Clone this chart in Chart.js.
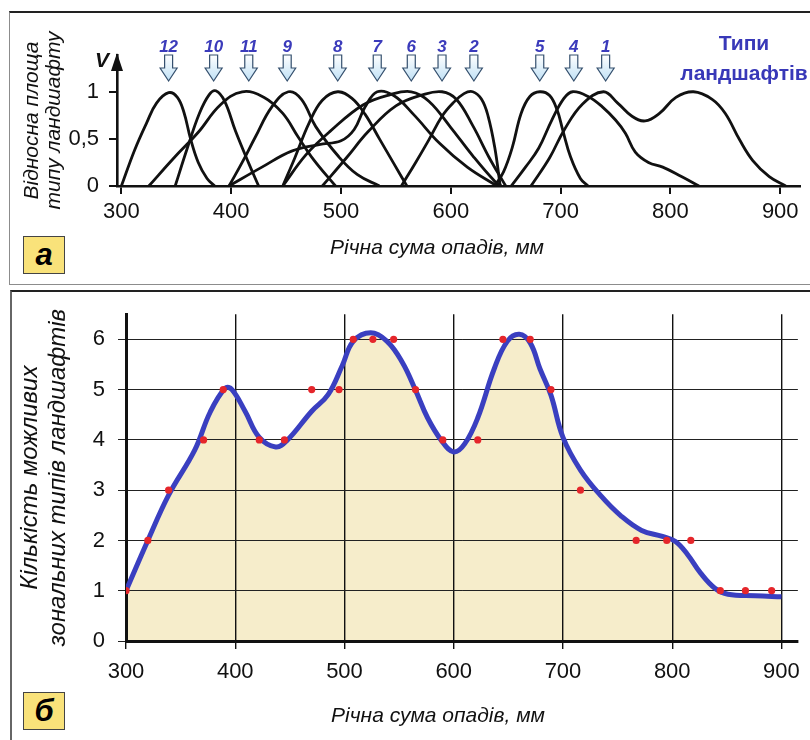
<!DOCTYPE html>
<html lang="uk">
<head>
<meta charset="utf-8">
<title>Типи ландшафтів і річна сума опадів</title>
<script src="https://cdn.jsdelivr.net/npm/chart.js@4.4.1/dist/chart.umd.min.js"></script>
<style>
  html, body { margin: 0; padding: 0; background: #fff; }
  #page { position: relative; width: 810px; height: 740px; overflow: hidden; font-family: 'Liberation Sans', Arial, sans-serif; }
  .panel { position: absolute; border: 1px solid #8c8c8c; border-top: 2px solid #222; }
  #panelA { left: 9px; top: 11px; width: 900px; height: 271px; }
  #panelB { left: 10px; top: 290px; width: 900px; height: 500px; border-left: 2px solid #666; }
  .tag { position: absolute; width: 40px; height: 36px; background: #f9e27a; border: 1px solid #444;
         font: italic bold 31px 'Liberation Sans', Arial, sans-serif; text-align: center; line-height: 35px; color: #000; }
  .xtitle { position: absolute; font: italic 21px 'Liberation Sans', Arial, sans-serif; color: #111;
            transform: translate(-50%, -50%); white-space: nowrap; }
  #typy { position: absolute; left: 669px; top: 28px; width: 150px; text-align: center; color: #3838b8;
          font: bold 21px 'Liberation Sans', Arial, sans-serif; line-height: 30px; }
  canvas { position: absolute; left: 0; }
</style>
</head>
<body>
<div id="page">
  <div class="panel" id="panelA"></div>
  <div class="panel" id="panelB"></div>
  <canvas id="chartA" width="810" height="286" style="top:0;width:810px;height:286px"></canvas>
  <canvas id="chartB" width="810" height="452" style="top:288px;width:810px;height:452px"></canvas>
  <div id="typy">Типи<br>ландшафтів</div>
  <div class="xtitle" style="left:437px;top:247px">Річна сума опадів, мм</div>
  <div class="xtitle" style="left:438px;top:715px">Річна сума опадів, мм</div>
  <div class="tag" style="left:23px;top:236px">а</div>
  <div class="tag" style="left:23px;top:692px">б</div>
</div>
<script>
const SHRYFT = "'Liberation Sans', Arial, sans-serif";

// === ПАНЕЛЬ А: відносна площа типів ландшафту ===
const tykyA = [300, 400, 500, 600, 700, 800, 900];
const tykyVA = [0, 0.5, 1];
const typyNomery = ['12', '10', '11', '9', '8', '7', '6', '3', '2', '5', '4', '1'];
const typyOptimum = [343, 384, 416, 451, 497, 533, 564, 592, 621, 681, 712, 741];

const k12 = [[300,0],[312,0.38],[323,0.67],[332,0.88],[343,0.99],[351,0.94],[357,0.78],[363,0.5],[370,0.25],[378,0.08],[385,0]];
const k10 = [[349,0],[360,0.4],[371,0.77],[380,0.97],[386,1.01],[394,0.9],[404,0.58],[416,0.24],[425,0]];
const k11 = [[325,0],[348,0.3],[370,0.57],[390,0.86],[410,1.0],[430,0.94],[447,0.77],[461,0.52],[475,0.28],[495,0]];
const k9 = [[398,0],[410,0.25],[422,0.52],[437,0.84],[452,1.0],[464,0.92],[477,0.63],[498,0.31],[515,0.12],[535,0]];
const k8 = [[447,0],[458,0.3],[471,0.67],[483,0.91],[497,1.0],[510,0.93],[522,0.76],[535,0.5],[548,0.24],[560,0]];
const k7 = [[398,0],[428,0.2],[455,0.37],[480,0.44],[500,0.48],[512,0.6],[522,0.84],[533,1.0],[548,0.96],[566,0.76],[590,0.45],[615,0.2],[642,0]];
const k6 = [[447,0],[468,0.33],[490,0.58],[520,0.86],[545,0.97],[564,1.0],[580,0.9],[600,0.62],[620,0.32],[640,0.05],[646,0]];
const k3 = [[483,0],[505,0.3],[525,0.58],[550,0.85],[575,0.97],[592,1.0],[605,0.92],[620,0.64],[635,0.3],[650,0]];
const k2 = [[555,0],[568,0.25],[580,0.49],[592,0.74],[602,0.88],[612,0.98],[620,1.0],[628,0.92],[634,0.74],[640,0.41],[645,0]];
const k5 = [[640,0],[648,0.15],[656,0.41],[664,0.77],[672,0.95],[681,1.0],[690,0.96],[697,0.8],[702,0.59],[709,0.31],[718,0.08],[725,0]];
const k4 = [[655,0],[668,0.2],[680,0.4],[692,0.7],[703,0.93],[711,1.0],[725,0.95],[738,0.84],[750,0.7],[759,0.56],[768,0.36],[780,0.25],[793,0.2],[810,0.1],[826,0]];
const k1 = [[673,0],[690,0.3],[703,0.59],[720,0.87],[739,1.0],[752,0.88],[765,0.74],[777,0.69],[790,0.77],[805,0.94],[821,1.0],[838,0.92],[850,0.77],[863,0.49],[875,0.27],[890,0.1],[905,0]];
const kryvi = [k12, k10, k11, k9, k8, k7, k6, k3, k2, k5, k4, k1];

// === ПАНЕЛЬ Б: кількість можливих зональних типів ===
const tykyB = [300, 400, 500, 600, 700, 800, 900];
const tykyVB = [0, 1, 2, 3, 4, 5, 6];
const opadyKryva = [300,320,339,363,377,391,397,409,422,437,447,470,485,498,508,524,539,553,565,576,589,600,610,622,637,649,660,670,679,689,700,716,735,753,772,791,803,814,826,839,851,876,900];
const kilkistKryva = [1.0,2.0,2.9,3.8,4.55,5.03,5.0,4.57,4.05,3.86,3.98,4.57,4.9,5.48,5.96,6.13,5.96,5.54,4.99,4.44,3.98,3.76,3.92,4.44,5.41,5.96,6.1,5.93,5.41,4.89,4.05,3.4,2.88,2.49,2.2,2.08,1.98,1.72,1.35,1.05,0.93,0.9,0.88];
const opadyTochky = [300,320,339,371,389,422,445,470,495,508,526,545,565,590,622,645,670,689,716,767,795,817,844,867,891];
const kilkistTochky = [1,2,3,4,5,4,4,5,5,6,6,6,5,4,4,6,6,5,3,2,2,2,1,1,1];

// стрілки типів та стрілка осі V
const strilkyPlugin = {
  id: 'strilky',
  afterDraw(chart) {
    const { ctx, chartArea, scales } = chart;
    const x0 = chartArea.left, top = chartArea.top;
    ctx.save();
    ctx.fillStyle = '#111';
    ctx.beginPath();
    ctx.moveTo(x0, top - 2);
    ctx.lineTo(x0 - 6, top + 16);
    ctx.lineTo(x0 + 6, top + 16);
    ctx.closePath();
    ctx.fill();
    ctx.font = `italic bold 21px ${SHRYFT}`;
    ctx.textAlign = 'center';
    ctx.textBaseline = 'middle';
    ctx.fillText('V', x0 - 15, top + 6);

    typyNomery.forEach((n, i) => {
      const x = scales.x.getPixelForValue(typyOptimum[i]);
      ctx.fillStyle = '#3b3bbb';
      ctx.font = `italic bold 17px ${SHRYFT}`;
      ctx.fillText(n, x, 47);
      ctx.beginPath();
      ctx.moveTo(x - 4, 55);
      ctx.lineTo(x + 4, 55);
      ctx.lineTo(x + 4, 68);
      ctx.lineTo(x + 8.5, 68);
      ctx.lineTo(x, 81);
      ctx.lineTo(x - 8.5, 68);
      ctx.lineTo(x - 4, 68);
      ctx.closePath();
      const g = ctx.createLinearGradient(0, 55, 0, 81);
      g.addColorStop(0, '#ffffff');
      g.addColorStop(1, '#bfe0f5');
      ctx.fillStyle = g;
      ctx.fill();
      ctx.strokeStyle = '#35506e';
      ctx.lineWidth = 1.2;
      ctx.stroke();
    });
    ctx.restore();
  }
};

Chart.defaults.font.family = SHRYFT;
Chart.defaults.color = '#111';

new Chart(document.getElementById('chartA'), {
  type: 'line',
  data: {
    datasets: kryvi.map(k => ({
      data: k.map(p => ({ x: p[0], y: p[1] })),
      borderColor: '#111',
      borderWidth: 2.8,
      pointRadius: 0,
      tension: 0.4,
      fill: false
    }))
  },
  options: {
    responsive: false,
    animation: false,
    events: [],
    layout: { padding: { left: 0, top: 55, right: 10, bottom: 0 } },
    plugins: { legend: { display: false }, tooltip: { enabled: false } },
    scales: {
      x: {
        type: 'linear', min: 296, max: 918,
        afterBuildTicks: s => { s.ticks = tykyA.map(v => ({ value: v })); },
        afterFit: s => { s.height = 100; },
        grid: { drawOnChartArea: false, drawTicks: true, tickLength: 8, color: '#111', lineWidth: 2 },
        border: { color: '#111', width: 2.6 },
        ticks: { font: { size: 22 }, padding: 5, maxRotation: 0 }
      },
      y: {
        type: 'linear', min: 0, max: 1.39,
        afterBuildTicks: s => { s.ticks = tykyVA.map(v => ({ value: v })); },
        afterFit: s => { s.width = 117; },
        grid: { drawOnChartArea: false, drawTicks: true, tickLength: 8, color: '#111', lineWidth: 2 },
        border: { color: '#111', width: 2.6 },
        ticks: { font: { size: 22 }, padding: 10, callback: v => String(v).replace('.', ',') },
        title: {
          display: true,
          text: ['Відносна площа', 'типу ландшафту'],
          font: { size: 21, style: 'italic', lineHeight: 1.05 },
          padding: { top: 21, bottom: 0 }
        }
      }
    }
  },
  plugins: [strilkyPlugin]
});

new Chart(document.getElementById('chartB'), {
  type: 'line',
  data: {
    datasets: [
      {
        data: opadyTochky.map((x, i) => ({ x, y: kilkistTochky[i] })),
        showLine: false,
        pointRadius: 3.6,
        pointBackgroundColor: '#e5262b',
        pointBorderWidth: 0
      },
      {
        data: opadyKryva.map((x, i) => ({ x, y: kilkistKryva[i] })),
        borderColor: '#3a3fc0',
        borderWidth: 5,
        pointRadius: 0,
        tension: 0.4,
        fill: 'origin',
        backgroundColor: '#f6edcb'
      }
    ]
  },
  options: {
    responsive: false,
    animation: false,
    events: [],
    layout: { padding: { left: 0, top: 20, right: 7, bottom: 0 } },
    plugins: { legend: { display: false }, tooltip: { enabled: false }, filler: { drawTime: 'beforeDraw' } },
    scales: {
      x: {
        type: 'linear', min: 300, max: 915,
        afterBuildTicks: s => { s.ticks = tykyB.map(v => ({ value: v })); },
        afterFit: s => { s.height = 99; },
        grid: { drawOnChartArea: true, drawTicks: true, tickLength: 8, color: '#111', lineWidth: 1.4 },
        border: { color: '#111', width: 3 },
        ticks: { font: { size: 22 }, padding: 10, maxRotation: 0 }
      },
      y: {
        type: 'linear', min: 0, max: 6.5,
        afterBuildTicks: s => { s.ticks = tykyVB.map(v => ({ value: v })); },
        afterFit: s => { s.width = 126; },
        grid: { drawOnChartArea: true, drawTicks: true, tickLength: 8, color: '#222', lineWidth: 1 },
        border: { color: '#111', width: 3 },
        ticks: { font: { size: 22 }, padding: 13 },
        title: {
          display: true,
          text: ['Кількість можливих', 'зональних типів ландшафтів'],
          font: { size: 24, style: 'italic', lineHeight: 1.15 },
          padding: { top: 17, bottom: 0 }
        }
      }
    }
  }
});
</script>
</body>
</html>
